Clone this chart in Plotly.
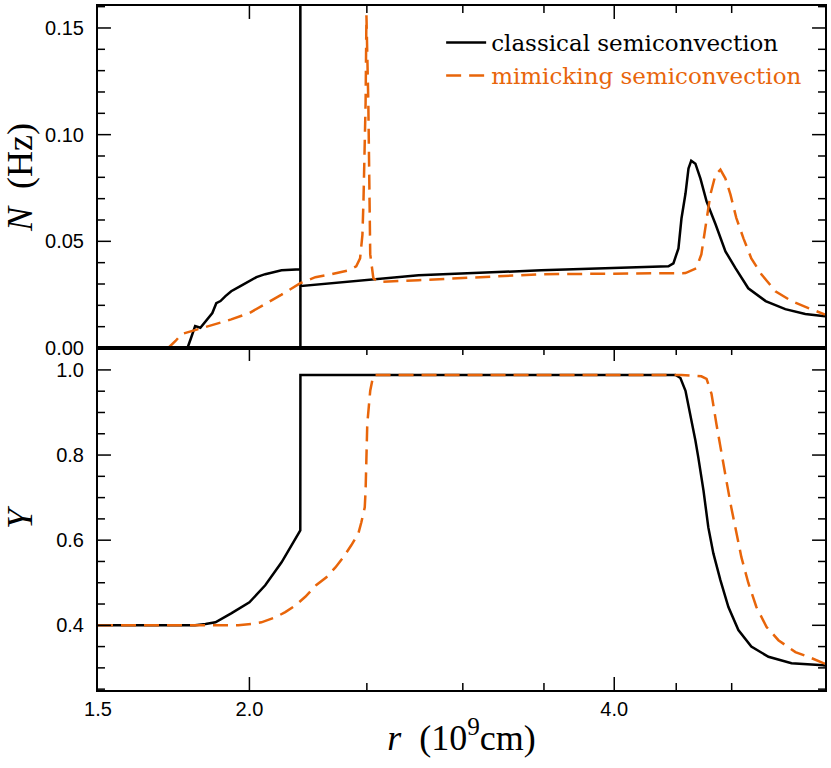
import plotly.graph_objects as go
from plotly.subplots import make_subplots

# ---- data (r in 1e9 cm) ----
# Brunt-Vaisala frequency N (Hz), classical semiconvection
r_N_classical = [1.50, 1.778, 1.790, 1.804, 1.822, 1.840, 1.864, 1.878, 1.893, 1.911, 1.932,
                 1.966, 2.000, 2.027, 2.061, 2.126, 2.2030,
                 2.2032, 2.2034, 2.2036, 2.758, 3.482, 4.434, 4.476, 4.519, 4.545, 4.580,
                 4.606, 4.630, 4.667, 4.712, 4.767, 4.849, 4.941, 5.036, 5.160, 5.333,
                 5.536, 5.750, 5.951, 5.97]
N_classical = [0.0, 0.0, 0.0047, 0.0103, 0.0095, 0.0126, 0.0164, 0.0210, 0.0220, 0.0243, 0.0266,
               0.0290, 0.0313, 0.0332, 0.0346, 0.0364, 0.0369,
               0.40, -0.01, 0.0290, 0.0341, 0.0364, 0.0383, 0.0397, 0.0467, 0.0607, 0.0724,
               0.0841, 0.0878, 0.0864, 0.0794, 0.0687, 0.0580, 0.0453, 0.0374, 0.0280, 0.0220,
               0.0182, 0.0159, 0.0150, 0.0149]

# N (Hz), mimicking semiconvection
r_N_mimic = [1.50, 1.714, 1.738, 1.758, 1.816, 1.875, 1.932, 2.000, 2.061, 2.126, 2.203, 2.267,
             2.338, 2.414, 2.450, 2.468, 2.479, 2.484, 2.494, 2.498, 2.507, 2.512, 2.516, 2.531,
             2.555, 2.758, 3.482, 4.580, 4.675, 4.720, 4.767, 4.802, 4.849, 4.894, 4.941, 4.988,
             5.044, 5.113, 5.190, 5.290, 5.433, 5.602, 5.785, 5.951, 5.97]
N_mimic = [0.0, 0.0, 0.0033, 0.0065, 0.0089, 0.0112, 0.0134, 0.0164, 0.0205, 0.0250, 0.0304, 0.0332,
           0.0346, 0.0364, 0.0383, 0.0420, 0.0530, 0.0690, 0.1150, 0.1560, 0.1150, 0.0690, 0.0440, 0.0327,
           0.0310, 0.0318, 0.0346, 0.0351, 0.0374, 0.0439, 0.0610, 0.0720, 0.0813, 0.0836, 0.0794, 0.0720,
           0.0610, 0.0514, 0.0420, 0.0346, 0.0266, 0.0220, 0.0187, 0.0159, 0.0157]

# Helium mass fraction Y, classical semiconvection
r_Y_classical = [1.50, 1.804, 1.840, 1.875, 1.932, 2.000, 2.061, 2.126, 2.2030, 2.2035, 4.494,
                 4.536, 4.580, 4.623, 4.667, 4.693, 4.739, 4.783, 4.829, 4.894, 4.969, 5.064,
                 5.190, 5.362, 5.602, 5.951, 5.97]
Y_classical = [0.40, 0.40, 0.403, 0.407, 0.428, 0.454, 0.494, 0.548, 0.623, 0.988, 0.988,
               0.981, 0.951, 0.897, 0.834, 0.794, 0.717, 0.630, 0.569, 0.506, 0.443, 0.389,
               0.350, 0.326, 0.311, 0.306, 0.305]

# Y, mimicking semiconvection
r_Y_mimic = [1.50, 1.958, 2.008, 2.046, 2.102, 2.141, 2.183, 2.224, 2.270, 2.315, 2.355, 2.391,
             2.427, 2.460, 2.474, 2.490, 2.494, 2.498, 2.502, 2.516, 2.531, 4.545, 4.720, 4.767,
             4.812, 4.857, 4.904, 4.950, 4.996, 5.044, 5.093, 5.160, 5.240, 5.343, 5.464, 5.643,
             5.785, 5.951, 5.97]
Y_mimic = [0.40, 0.40, 0.403, 0.407, 0.419, 0.431, 0.447, 0.467, 0.494, 0.513, 0.536, 0.560,
           0.588, 0.616, 0.642, 0.677, 0.717, 0.794, 0.873, 0.951, 0.988, 0.988, 0.985, 0.979,
           0.944, 0.873, 0.810, 0.740, 0.677, 0.616, 0.560, 0.500, 0.443, 0.396, 0.365, 0.337,
           0.326, 0.311, 0.310]

x_major = [1.5, 2.0, 4.0]
x_major_labels = ["1.5", "2.0", "4.0"]
x_minor = [2.5, 3.0, 3.5, 4.5, 5.0]
N_ticks = [0.0, 0.05, 0.10, 0.15]
N_ticklabels = ["0.00", "0.05", "0.10", "0.15"]
N_minor = [0.01, 0.02, 0.03, 0.04, 0.06, 0.07, 0.08, 0.09, 0.11, 0.12, 0.13, 0.14, 0.16]
Y_ticks = [0.4, 0.6, 0.8, 1.0]
Y_ticklabels = ["0.4", "0.6", "0.8", "1.0"]
Y_minor = [0.25, 0.30, 0.35, 0.45, 0.50, 0.55, 0.65, 0.70, 0.75, 0.85, 0.90, 0.95, 1.05]

BLACK = "#000000"
ORANGE = "#e8650a"

W, H = 831, 768
ML, MR, MT, MB = 98, 4, 4, 78
xr = [0.17609, 0.77597]  # log10(1.5) .. log10(5.97)
yr1 = [0, 0.1603]
yr2 = [0.248, 1.0515]

fig = make_subplots(rows=2, cols=1, shared_xaxes=True, vertical_spacing=0)

fig.add_trace(go.Scatter(x=r_N_classical, y=N_classical, mode="lines",
                         line=dict(color=BLACK, width=2.5), name="classical semiconvection",
                         legendgroup="c"), row=1, col=1)
fig.add_trace(go.Scatter(x=r_N_mimic, y=N_mimic, mode="lines",
                         line=dict(color=ORANGE, width=2.5, dash="15px,8px"),
                         name='<span style="color:#e8650a">mimicking semiconvection</span>',
                         legendgroup="m"), row=1, col=1)
fig.add_trace(go.Scatter(x=r_Y_classical, y=Y_classical, mode="lines",
                         line=dict(color=BLACK, width=2.5), showlegend=False,
                         legendgroup="c"), row=2, col=1)
fig.add_trace(go.Scatter(x=r_Y_mimic, y=Y_mimic, mode="lines",
                         line=dict(color=ORANGE, width=2.5, dash="15px,8px"), showlegend=False,
                         legendgroup="m"), row=2, col=1)

# ---- inward tick marks, drawn as short line segments at the tick values ----
plot_w = W - ML - MR
panel_h = (H - MT - MB) / 2.0
px_per_decade = plot_w / (xr[1] - xr[0])
x_lo, x_hi = 10 ** xr[0], 10 ** xr[1]


def y_tick_segments(vals, ln):
    f = 10 ** (ln / px_per_decade)
    xs, ys = [], []
    for v in vals:
        xs += [x_lo, x_lo * f, None, x_hi / f, x_hi, None]
        ys += [v, v, None, v, v, None]
    return xs, ys


def x_tick_segments(vals, ln, yrange, edges):
    d = ln * (yrange[1] - yrange[0]) / panel_h
    xs, ys = [], []
    for v in vals:
        if "bottom" in edges:
            xs += [v, v, None]
            ys += [yrange[0], yrange[0] + d, None]
        if "top" in edges:
            xs += [v, v, None]
            ys += [yrange[1], yrange[1] - d, None]
    return xs, ys


TICK = dict(color="black", width=1.5)
for row, major, minor, yrng, edges in [(1, N_ticks, N_minor, yr1, ["top"]),
                                       (2, Y_ticks, Y_minor, yr2, ["top", "bottom"])]:
    segs = [y_tick_segments(major, 13), y_tick_segments(minor, 7),
            x_tick_segments(x_major[1:], 13, yrng, edges),
            x_tick_segments(x_minor, 7, yrng, edges)]
    xs = sum([s[0] for s in segs], [])
    ys = sum([s[1] for s in segs], [])
    fig.add_trace(go.Scatter(x=xs, y=ys, mode="lines", line=TICK, showlegend=False,
                             hoverinfo="skip", connectgaps=False, cliponaxis=False),
                  row=row, col=1)

tickfont = dict(family="Liberation Sans, Arial, sans-serif", size=20, color="black")
titlefont = dict(family="Liberation Serif, Times New Roman, serif", size=36, color="black")

fig.update_xaxes(type="log", range=xr, tickmode="array", tickvals=x_major,
                 ticktext=x_major_labels, ticks="", showline=True, linecolor="black",
                 linewidth=2, mirror=True, showgrid=False, zeroline=False, tickfont=tickfont)
fig.update_xaxes(row=1, col=1, showticklabels=False)
fig.update_xaxes(row=2, col=1, showticklabels=True,
                 title=dict(text="<i>r</i>&nbsp;&nbsp;(10<sup>9</sup>cm)", font=titlefont, standoff=6))
fig.update_yaxes(ticks="", showline=True, linecolor="black", linewidth=2, mirror=True,
                 showgrid=False, zeroline=False, tickfont=tickfont, ticklabelstandoff=8,
                 tickmode="array")
fig.update_yaxes(row=1, col=1, range=yr1, tickvals=N_ticks, ticktext=N_ticklabels,
                 title=dict(text="<i>N</i>  (Hz)", font=titlefont, standoff=4))
fig.update_yaxes(row=2, col=1, range=yr2, tickvals=Y_ticks, ticktext=Y_ticklabels,
                 title=dict(text="<i>Y</i>", font=titlefont, standoff=24))

fig.update_layout(
    width=W, height=H,
    margin=dict(l=ML, r=MR, t=MT, b=MB),
    paper_bgcolor="white", plot_bgcolor="white",
    legend=dict(x=0.472, y=0.978, xanchor="left", yanchor="top",
                bgcolor="rgba(0,0,0,0)", borderwidth=0,
                font=dict(family="DejaVu Serif, serif", size=23, color="black"),
                tracegroupgap=0, itemwidth=40),
    showlegend=True,
)

fig.write_html("out.html", config={"displayModeBar": False},
               post_script="document.body.style.margin='0px';")
